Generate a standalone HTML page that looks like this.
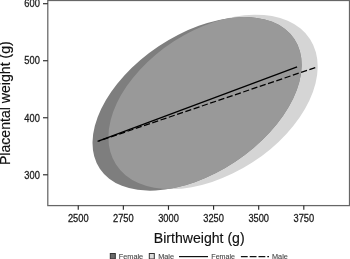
<!DOCTYPE html>
<html><head><meta charset="utf-8"><style>html,body{margin:0;padding:0;background:#fff;width:350px;height:259px;overflow:hidden}svg{display:block;will-change:transform}</style></head>
<body><svg width="350" height="259" viewBox="0 0 350 259" font-family="'Liberation Sans', sans-serif">
<defs><clipPath id="fm"><ellipse cx="197.08" cy="103.85" rx="116.89" ry="69.30" transform="rotate(-33.704 197.08 103.85)"/></clipPath></defs>
<rect width="350" height="259" fill="#fff"/>
<ellipse cx="213.06" cy="101.90" rx="115.53" ry="72.18" transform="rotate(-32.862 213.06 101.90)" fill="#d5d5d5"/>
<ellipse cx="197.08" cy="103.85" rx="116.89" ry="69.30" transform="rotate(-33.704 197.08 103.85)" fill="#7e7e7e"/>
<g clip-path="url(#fm)"><ellipse cx="213.06" cy="101.90" rx="115.53" ry="72.18" transform="rotate(-32.862 213.06 101.90)" fill="#999999"/></g>
<line x1="97.6" y1="141.4" x2="297.1" y2="66.8" stroke="#000" stroke-width="1.25"/>
<line x1="99" y1="140.9" x2="316.4" y2="67.2" stroke="#000" stroke-width="1.25" stroke-dasharray="6.2 2.53" stroke-dashoffset="4.84"/>
<rect x="47.8" y="0.5" width="301.70" height="205.10" fill="none" stroke="#666" stroke-width="1.25"/>
<g stroke="#2a2a2a" stroke-width="1.15"><line x1="78.25" y1="205.6" x2="78.25" y2="209.8"/><line x1="123.36" y1="205.6" x2="123.36" y2="209.8"/><line x1="168.47" y1="205.6" x2="168.47" y2="209.8"/><line x1="213.58" y1="205.6" x2="213.58" y2="209.8"/><line x1="258.69" y1="205.6" x2="258.69" y2="209.8"/><line x1="303.80" y1="205.6" x2="303.80" y2="209.8"/><line x1="43" y1="3.70" x2="47.8" y2="3.70"/><line x1="43" y1="60.73" x2="47.8" y2="60.73"/><line x1="43" y1="117.76" x2="47.8" y2="117.76"/><line x1="43" y1="174.79" x2="47.8" y2="174.79"/></g>
<text transform="translate(78.25,222.00) scale(1,1.08)" text-anchor="middle" font-size="9.3" fill="#1a1a1a" stroke="#1a1a1a" stroke-width="0.25">2500</text><text transform="translate(123.36,222.00) scale(1,1.08)" text-anchor="middle" font-size="9.3" fill="#1a1a1a" stroke="#1a1a1a" stroke-width="0.25">2750</text><text transform="translate(168.47,222.00) scale(1,1.08)" text-anchor="middle" font-size="9.3" fill="#1a1a1a" stroke="#1a1a1a" stroke-width="0.25">3000</text><text transform="translate(213.58,222.00) scale(1,1.08)" text-anchor="middle" font-size="9.3" fill="#1a1a1a" stroke="#1a1a1a" stroke-width="0.25">3250</text><text transform="translate(258.69,222.00) scale(1,1.08)" text-anchor="middle" font-size="9.3" fill="#1a1a1a" stroke="#1a1a1a" stroke-width="0.25">3500</text><text transform="translate(303.80,222.00) scale(1,1.08)" text-anchor="middle" font-size="9.3" fill="#1a1a1a" stroke="#1a1a1a" stroke-width="0.25">3750</text><text transform="translate(39.80,7.45) scale(1,1.08)" text-anchor="end" font-size="9.3" fill="#1a1a1a" stroke="#1a1a1a" stroke-width="0.25">600</text><text transform="translate(39.80,64.48) scale(1,1.08)" text-anchor="end" font-size="9.3" fill="#1a1a1a" stroke="#1a1a1a" stroke-width="0.25">500</text><text transform="translate(39.80,121.51) scale(1,1.08)" text-anchor="end" font-size="9.3" fill="#1a1a1a" stroke="#1a1a1a" stroke-width="0.25">400</text><text transform="translate(39.80,178.54) scale(1,1.08)" text-anchor="end" font-size="9.3" fill="#1a1a1a" stroke="#1a1a1a" stroke-width="0.25">300</text>
<text transform="translate(199.20,242.60)" text-anchor="middle" font-size="14.1" fill="#111" stroke="#111" stroke-width="0.15">Birthweight (g)</text>
<text transform="translate(9.80,103.20) rotate(-90)" text-anchor="middle" font-size="14.1" fill="#111" stroke="#111" stroke-width="0.15">Placental weight (g)</text>
<rect x="110.3" y="253.5" width="5" height="5.5" fill="#6a6a6a" stroke="#333" stroke-width="1"/>
<text transform="translate(118.80,258.90)" text-anchor="start" font-size="7.3" fill="#444" stroke="#444" stroke-width="0.1">Female</text>
<rect x="149.3" y="253.5" width="5" height="5.5" fill="#dadada" stroke="#333" stroke-width="1"/>
<text transform="translate(158.20,258.90)" text-anchor="start" font-size="7.3" fill="#444" stroke="#444" stroke-width="0.1">Male</text>
<line x1="179" y1="256.6" x2="208" y2="256.6" stroke="#111" stroke-width="1.2"/>
<text transform="translate(211.30,258.90)" text-anchor="start" font-size="7.1" fill="#444" stroke="#444" stroke-width="0.1">Female</text>
<line x1="240.9" y1="256.6" x2="269" y2="256.6" stroke="#111" stroke-width="1.2" stroke-dasharray="6.8 2"/>
<text transform="translate(272.00,258.90)" text-anchor="start" font-size="7.3" fill="#444" stroke="#444" stroke-width="0.1">Male</text>
</svg></body></html>
